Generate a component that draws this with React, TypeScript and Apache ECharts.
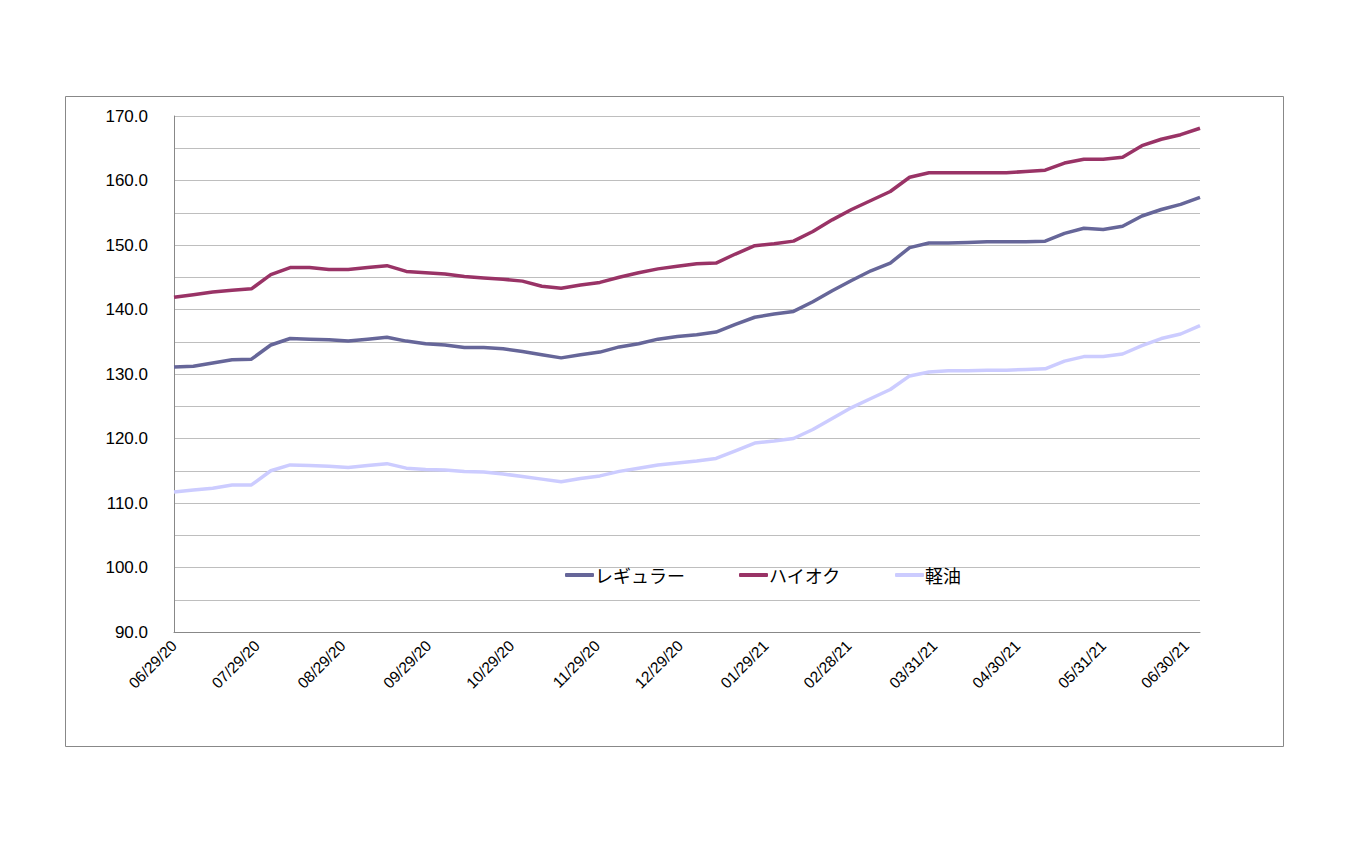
import React, { useEffect, useRef } from "react";
import * as echarts from "echarts";

// Weekly survey values (first week 06/29/20, one value every 7 days)
const regular = [
  131.1, 131.2, 131.7, 132.2, 132.3, 134.5, 135.5, 135.4, 135.3, 135.1,
  135.4, 135.7, 135.1, 134.7, 134.5, 134.1, 134.1, 133.9, 133.5, 133.0,
  132.5, 133.0, 133.4, 134.2, 134.7, 135.4, 135.8, 136.1, 136.5, 137.7,
  138.8, 139.3, 139.7, 141.2, 142.9, 144.5, 146.0, 147.2, 149.6, 150.3,
  150.3, 150.4, 150.5, 150.5, 150.5, 150.6, 151.8, 152.6, 152.4, 152.9,
  154.5, 155.5, 156.3, 157.4,
];
const highOctane = [
  141.9, 142.3, 142.7, 143.0, 143.2, 145.4, 146.5, 146.5, 146.2, 146.2,
  146.5, 146.8, 145.9, 145.7, 145.5, 145.1, 144.9, 144.7, 144.4, 143.6,
  143.3, 143.8, 144.2, 145.0, 145.7, 146.3, 146.7, 147.1, 147.2, 148.6,
  149.9, 150.2, 150.6, 152.1, 153.9, 155.5, 156.9, 158.3, 160.5, 161.2,
  161.2, 161.2, 161.2, 161.2, 161.4, 161.6, 162.7, 163.3, 163.3, 163.6,
  165.4, 166.4, 167.1, 168.1,
];
const diesel = [
  111.7, 112.0, 112.3, 112.8, 112.8, 115.0, 115.9, 115.8, 115.7, 115.5,
  115.8, 116.1, 115.4, 115.2, 115.1, 114.9, 114.8, 114.5, 114.1, 113.7,
  113.3, 113.8, 114.2, 114.9, 115.4, 115.9, 116.2, 116.5, 116.9, 118.1,
  119.3, 119.6, 120.0, 121.4, 123.1, 124.8, 126.2, 127.6, 129.7, 130.3,
  130.5, 130.5, 130.6, 130.6, 130.7, 130.8, 132.0, 132.7, 132.7, 133.1,
  134.4, 135.5, 136.2, 137.5,
];
const seriesNames = ["レギュラー", "ハイオク", "軽油"];
const tickLabels = [
  "06/29/20", "07/29/20", "08/29/20", "09/29/20", "10/29/20", "11/29/20",
  "12/29/20", "01/29/21", "02/28/21", "03/31/21", "04/30/21", "05/31/21",
  "06/30/21",
];

const START = Date.UTC(2020, 5, 29);
const DAY = 86400000;
const fmt = (t: number) => {
  const d = new Date(t);
  const mm = String(d.getUTCMonth() + 1).padStart(2, "0");
  const dd = String(d.getUTCDate()).padStart(2, "0");
  const yy = String(d.getUTCFullYear() % 100).padStart(2, "0");
  return `${mm}/${dd}/${yy}`;
};

const totalDays = (regular.length - 1) * 7 + 1;
const dayCats: string[] = [];
for (let i = 0; i < totalDays; i++) dayCats.push(fmt(START + i * DAY));
const toDaily = (weekly: number[]) => {
  const arr: (number | null)[] = new Array(totalDays).fill(null);
  weekly.forEach((v, i) => (arr[i * 7] = v));
  return arr;
};

if (typeof document !== "undefined") document.body.style.margin = "0";

export default function App() {
  const ref = useRef<HTMLDivElement>(null);
  useEffect(() => {
    if (!ref.current) return;
    const chart = echarts.init(ref.current, undefined, { renderer: "svg" });
    const colors = ["#666699", "#993366", "#CCCCFF"];
    const datasets = [regular, highOctane, diesel];
    chart.setOption({
      animation: false,
      backgroundColor: "#ffffff",
      textStyle: { fontFamily: "Liberation Sans" },
      graphic: [
        {
          type: "rect",
          shape: { x: 65.5, y: 96.5, width: 1218, height: 650 },
          style: { fill: "none", stroke: "#888888", lineWidth: 1 },
          silent: true,
        },
      ],
      grid: { left: 174, top: 116, right: 150, bottom: 212, containLabel: false },
      legend: {
        left: 560,
        top: 561,
        itemGap: 54,
        itemWidth: 29,
        itemHeight: 4,
        icon: "roundRect",
        textStyle: {
          fontFamily: "Noto Sans CJK JP",
          fontSize: 18,
          color: "#000000",
          padding: [0, 0, 0, -4],
        },
        data: seriesNames,
      },
      xAxis: {
        type: "category",
        data: dayCats,
        boundaryGap: false,
        axisLine: { lineStyle: { color: "#888888", width: 1 } },
        axisTick: { show: false },
        splitLine: { show: false },
        axisLabel: {
          interval: (_i: number, v: string) => tickLabels.includes(v),
          rotate: 45,
          margin: 11,
          fontSize: 15.5,
          color: "#000000",
          fontFamily: "Liberation Sans",
        },
      },
      yAxis: {
        type: "value",
        min: 90,
        max: 170,
        interval: 5,
        axisLine: { show: true, lineStyle: { color: "#888888", width: 1 } },
        axisTick: { show: false },
        splitLine: { lineStyle: { color: "#BEBEBE", width: 1 } },
        axisLabel: {
          margin: 26,
          fontSize: 17,
          color: "#000000",
          fontFamily: "Liberation Sans",
          formatter: (v: number) => (v % 10 === 0 ? v.toFixed(1) : ""),
        },
      },
      series: seriesNames.map((name, k) => ({
        name,
        type: "line",
        data: toDaily(datasets[k]),
        connectNulls: true,
        showSymbol: false,
        symbol: "none",
        color: colors[k],
        lineStyle: { color: colors[k], width: 3.5 },
      })),
    });
    return () => chart.dispose();
  }, []);
  return <div ref={ref} style={{ width: 1350, height: 844 }} />;
}
